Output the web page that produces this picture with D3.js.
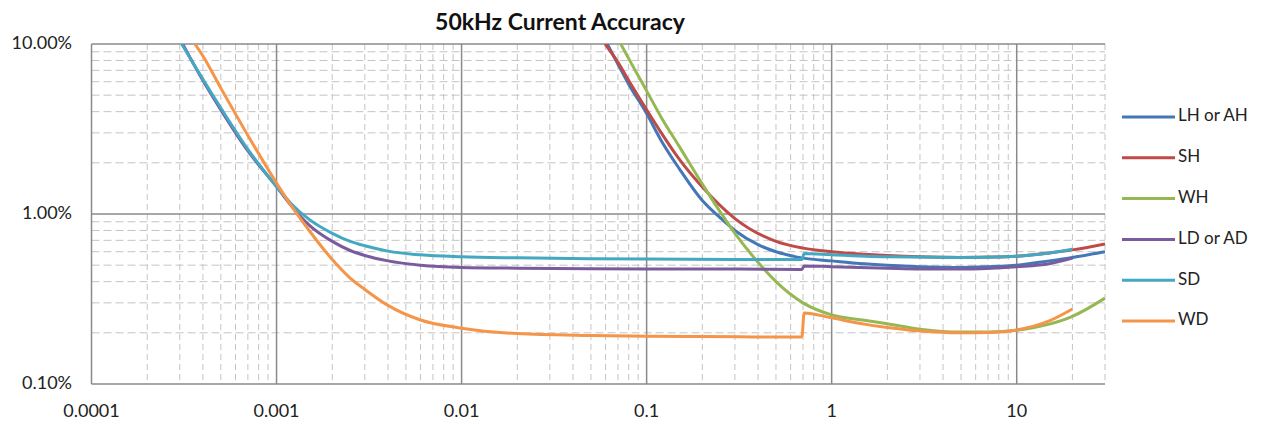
<!DOCTYPE html>
<html>
<head>
<meta charset="utf-8">
<script src="https://cdn.jsdelivr.net/npm/d3@7"></script>
<style>
  body { margin: 0; background: #fff; }
  svg { font-family: Lato, 'Open Sans', sans-serif; }
</style>
</head>
<body>
<div id="chart"></div>
<script>
// [current, accuracy %]
const lhAh = [[0.0613, 10], [0.07, 7.6], [0.08, 5.8], [0.1, 3.9], [0.12, 2.7], [0.15, 1.85], [0.2, 1.2], [0.25, 0.95],
  [0.3, 0.8], [0.4, 0.66], [0.5, 0.6], [0.7, 0.55], [1, 0.53], [1.5, 0.51], [2, 0.5], [3, 0.49], [5, 0.485],
  [7, 0.49], [10, 0.5], [15, 0.53], [20, 0.555], [30, 0.6]];
const sh = [[0.0597, 10], [0.07, 7.8], [0.08, 6.1], [0.1, 4.1], [0.12, 3.0], [0.15, 2.1], [0.2, 1.44], [0.3, 0.94],
  [0.5, 0.69], [0.7, 0.63], [1, 0.6], [1.5, 0.58], [2, 0.57], [3, 0.56], [5, 0.555], [7, 0.558], [10, 0.565],
  [15, 0.59], [20, 0.615], [30, 0.667]];
const wh = [[0.0725, 10], [0.08, 8.2], [0.1, 5.3], [0.12, 3.7], [0.15, 2.5], [0.2, 1.5], [0.3, 0.77], [0.4, 0.52],
  [0.5, 0.4], [0.7, 0.3], [1, 0.255], [1.5, 0.237], [2, 0.226], [3, 0.21], [5, 0.202], [7, 0.202], [10, 0.207],
  [15, 0.225], [20, 0.25], [30, 0.32]];
const ldAd = [[0.000308, 10.2], [0.0004, 6.1], [0.0005, 4.1], [0.0007, 2.35], [0.001, 1.45], [0.0012, 1.12],
  [0.0015, 0.86], [0.002, 0.69], [0.0025, 0.61], [0.003, 0.57], [0.004, 0.53], [0.006, 0.5], [0.01, 0.485],
  [0.02, 0.48], [0.05, 0.476], [0.1, 0.475], [0.3, 0.475], [0.69, 0.472], [0.71, 0.495], [1, 0.49], [2, 0.48],
  [3, 0.475], [5, 0.475], [10, 0.49], [15, 0.51], [20, 0.55]];
const sd = [[0.000307, 10], [0.0004, 6.2], [0.0005, 4.2], [0.0007, 2.4], [0.001, 1.45], [0.0012, 1.15],
  [0.0015, 0.93], [0.002, 0.77], [0.0025, 0.69], [0.003, 0.65], [0.004, 0.605], [0.006, 0.575], [0.01, 0.56],
  [0.02, 0.552], [0.05, 0.546], [0.1, 0.543], [0.3, 0.54], [0.69, 0.54], [0.71, 0.585], [1, 0.575], [2, 0.56],
  [5, 0.555], [10, 0.565], [15, 0.59], [20, 0.62]];
const wd = [[0.000362, 10], [0.0004, 8.5], [0.0005, 5.5], [0.0007, 2.9], [0.001, 1.52], [0.0012, 1.12],
  [0.0015, 0.8], [0.002, 0.54], [0.0025, 0.42], [0.003, 0.36], [0.004, 0.29], [0.006, 0.238], [0.01, 0.213],
  [0.02, 0.198], [0.05, 0.193], [0.1, 0.191], [0.2, 0.19], [0.5, 0.189], [0.69, 0.189], [0.71, 0.262],
  [1, 0.245], [1.5, 0.225], [2, 0.215], [3, 0.205], [5, 0.2], [7, 0.201], [10, 0.208], [15, 0.235], [20, 0.276]];

const seriesNames = ['LH or AH', 'SH', 'WH', 'LD or AD', 'SD', 'WD'];
const seriesData = [lhAh, sh, wh, ldAd, sd, wd];
const COLORS = ['#4477b8', '#be4b48', '#96b853', '#7a5c9e', '#44a8c2', '#f5954a'];

const xTicks = [0.0001, 0.001, 0.01, 0.1, 1, 10];
const xTickLabels = ['0.0001', '0.001', '0.01', '0.1', '1', '10'];
const yTicks = [0.1, 1, 10];
const yTickLabels = ['0.10%', '1.00%', '10.00%'];

const W = 1268, H = 425;
const margin = { top: 44, right: 163, bottom: 41, left: 91.5 };

const svg = d3.select('#chart').append('svg').attr('width', W).attr('height', H);

const x = d3.scaleLog().domain([0.0001, 30]).range([margin.left, W - margin.right]);
const y = d3.scaleLog().domain([0.1, 10]).range([H - margin.bottom, margin.top]);

// minor grid (2..9 in each decade)
const xMinor = [];
for (let d = 0.0001; d < 30; d *= 10) {
  for (let k = 2; k <= 9; k++) if (d * k <= 30.0001) xMinor.push(d * k);
}
const yMinor = [];
for (let d = 0.1; d < 10; d *= 10) {
  for (let k = 2; k <= 9; k++) yMinor.push(d * k);
}

const grid = svg.append('g');
grid.selectAll('.vminor').data(xMinor).enter().append('line')
  .attr('x1', d => x(d)).attr('x2', d => x(d)).attr('y1', y(10)).attr('y2', y(0.1))
  .attr('stroke', '#c4c4c4').attr('stroke-width', 1).attr('stroke-dasharray', '6,4');
grid.selectAll('.hminor').data(yMinor).enter().append('line')
  .attr('x1', x(0.0001)).attr('x2', x(30)).attr('y1', d => y(d)).attr('y2', d => y(d))
  .attr('stroke', '#c4c4c4').attr('stroke-width', 1).attr('stroke-dasharray', '8,4');
grid.selectAll('.vmajor').data(xTicks).enter().append('line')
  .attr('x1', d => x(d)).attr('x2', d => x(d)).attr('y1', y(10)).attr('y2', y(0.1))
  .attr('stroke', '#8a8a8a').attr('stroke-width', 1.5);
grid.selectAll('.hmajor').data(yTicks).enter().append('line')
  .attr('x1', x(0.0001)).attr('x2', x(30)).attr('y1', d => y(d)).attr('y2', d => y(d))
  .attr('stroke', '#8a8a8a').attr('stroke-width', 1.5);

// axes labels
svg.selectAll('.ylab').data(yTicks).enter().append('text')
  .attr('x', 72).attr('y', d => y(d)).attr('text-anchor', 'end').attr('dominant-baseline', 'middle')
  .style('font-size', '18px').style('fill', '#222').text((d, i) => yTickLabels[i]);
svg.selectAll('.xlab').data(xTicks).enter().append('text')
  .attr('x', d => x(d)).attr('y', 412).attr('text-anchor', 'middle').attr('dominant-baseline', 'middle')
  .style('font-size', '18px').style('fill', '#222').text((d, i) => xTickLabels[i]);

svg.append('text').attr('x', 560).attr('y', 30).attr('text-anchor', 'middle')
  .style('font-size', '23px').style('font-weight', 'bold').style('fill', '#111')
  .text('50kHz Current Accuracy');

// series
svg.append('clipPath').attr('id', 'plot').append('rect')
  .attr('x', x(0.0001)).attr('y', y(10)).attr('width', x(30) - x(0.0001)).attr('height', y(0.1) - y(10));

const line = d3.line().x(d => x(d[0])).y(d => y(d[1])).curve(d3.curveMonotoneX);
svg.append('g').attr('clip-path', 'url(#plot)').selectAll('path').data(seriesData).enter().append('path')
  .attr('d', line).attr('fill', 'none').attr('stroke', (_, i) => COLORS[i]).attr('stroke-width', 3)
  .attr('stroke-linejoin', 'round');

// legend
const legendY = d3.scalePoint().domain(seriesNames).range([117, 321]);
const legend = svg.append('g');
legend.selectAll('line').data(seriesNames).enter().append('line')
  .attr('x1', 1122).attr('x2', 1175).attr('y1', d => legendY(d)).attr('y2', d => legendY(d))
  .attr('stroke', (_, i) => COLORS[i]).attr('stroke-width', 3);
legend.selectAll('text').data(seriesNames).enter().append('text')
  .attr('x', 1178).attr('y', d => legendY(d)).attr('dominant-baseline', 'middle')
  .style('font-size', '17px').style('fill', '#222').text(d => d);
</script>
</body>
</html>
